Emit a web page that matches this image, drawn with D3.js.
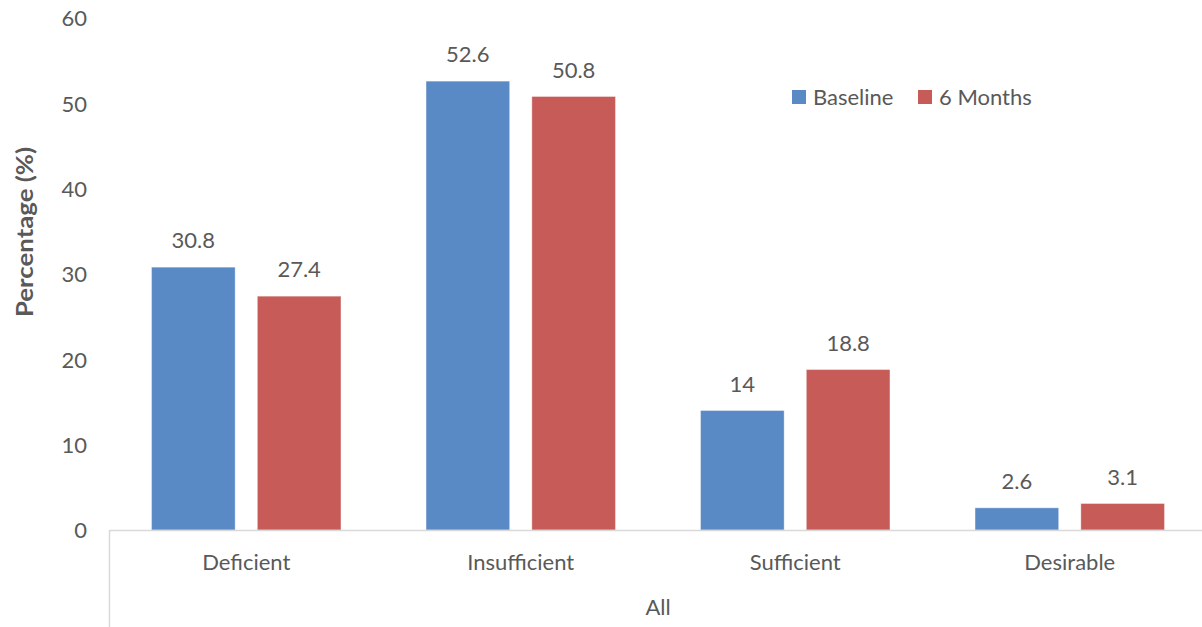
<!DOCTYPE html>
<html>
<head>
<meta charset="utf-8">
<script src="https://cdn.jsdelivr.net/npm/d3@7/dist/d3.min.js"></script>
<style>
  html, body { margin: 0; padding: 0; background: #ffffff; }
  svg text { font-family: Lato, "Open Sans", sans-serif; fill: #595959; }
</style>
</head>
<body>
<svg id="chart" width="1202" height="627"></svg>
<script>
// Vitamin D status distribution, baseline vs 6 months
const categories = ["Deficient", "Insufficient", "Sufficient", "Desirable"];
const seriesNames = ["Baseline", "6 Months"];
const baseline = [30.8, 52.6, 14, 2.6];
const sixMonths = [27.4, 50.8, 18.8, 3.1];
const yTicks = [0, 10, 20, 30, 40, 50, 60];
const groupLabel = "All";
const colors = ["#5A8AC6", "#C65B57"];
const fontSize = "22px";

const svg = d3.select("#chart");
const plot = { left: 109, right: 1207, top: 18, bottom: 530 };

const x0 = d3.scaleBand().domain(categories).range([plot.left, plot.right]).paddingInner(0.31).paddingOuter(0.155);
const x1 = d3.scaleBand().domain(seriesNames).range([0, x0.bandwidth()]).paddingInner(0.21);
const y = d3.scaleLinear().domain([0, 60]).range([plot.bottom, plot.top]);

const values = [baseline, sixMonths];
const rows = categories.map((c, i) => ({ cat: c, vals: seriesNames.map((s, j) => ({ s, v: values[j][i], j })) }));

// y axis: labels only
const yAxis = d3.axisLeft(y).tickValues(yTicks).tickSize(0).tickPadding(0).tickFormat(d3.format("d"));
const gy = svg.append("g").attr("transform", `translate(${87},0)`).call(yAxis);
gy.select(".domain").remove();
gy.selectAll("text").style("font-size", fontSize).attr("fill", "#595959").attr("dy", "0.35em");

// bars
const groups = svg.append("g").selectAll("g").data(rows).join("g")
  .attr("transform", d => `translate(${x0(d.cat)},0)`);
groups.selectAll("rect").data(d => d.vals).join("rect")
  .attr("x", d => x1(d.s))
  .attr("width", x1.bandwidth())
  .attr("y", d => y(d.v))
  .attr("height", d => y(0) - y(d.v))
  .attr("fill", d => colors[d.j])
  .attr("stroke", "#ffffff").attr("stroke-opacity", 0.35).attr("stroke-width", 1);
groups.selectAll("text").data(d => d.vals).join("text")
  .attr("x", d => x1(d.s) + x1.bandwidth() / 2)
  .attr("y", d => y(d.v) - 19)
  .attr("text-anchor", "middle")
  .style("font-size", fontSize)
  .text(d => d.v);

// x axis line and category labels
const gx = svg.append("g").attr("transform", `translate(0,${plot.bottom})`)
  .call(d3.axisBottom(x0).tickSize(0).tickPadding(0));
gx.select(".domain").remove();
gx.selectAll("text").attr("dy", null).attr("y", 40).style("font-size", fontSize).attr("fill", "#595959");
svg.append("line").attr("x1", plot.left).attr("x2", 1202).attr("y1", plot.bottom + 0.5).attr("y2", plot.bottom + 0.5)
  .attr("stroke", "#D9D9D9").attr("stroke-width", 1.5);
svg.append("line").attr("x1", plot.left + 0.5).attr("x2", plot.left + 0.5).attr("y1", plot.bottom).attr("y2", 627)
  .attr("stroke", "#D9D9D9").attr("stroke-width", 1.5);

// outer group label
svg.append("text").attr("x", (plot.left + plot.right) / 2).attr("y", 615)
  .attr("text-anchor", "middle").style("font-size", fontSize).text(groupLabel);

// y axis title
svg.append("text").attr("transform", "translate(33,232) rotate(-90)")
  .attr("text-anchor", "middle").style("font-size", "23px").style("font-weight", "bold")
  .attr("textLength", 170).attr("lengthAdjust", "spacingAndGlyphs")
  .text("Percentage (%)");

// legend
const legend = svg.append("g").attr("transform", "translate(792,90)");
const items = legend.selectAll("g").data(seriesNames).join("g")
  .attr("transform", (d, i) => `translate(${i * 126},0)`);
items.append("rect").attr("width", 14).attr("height", 14).attr("fill", (d, i) => colors[i]);
items.append("text").attr("x", 21).attr("y", 7).attr("dy", "0.35em").style("font-size", fontSize).text(d => d);
</script>
</body>
</html>
